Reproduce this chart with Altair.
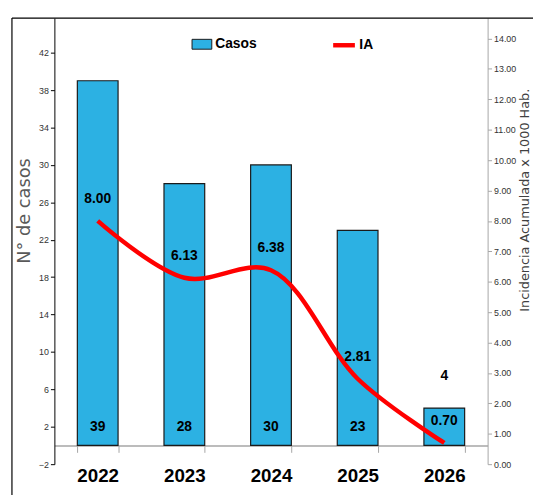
import altair as alt
import pandas as pd

years = ["2022", "2023", "2024", "2025", "2026"]
casos = [39, 28, 30, 23, 4]
ia = [8.00, 6.13, 6.38, 2.81, 0.70]
left_ticks = [-2, 2, 6, 10, 14, 18, 22, 26, 30, 34, 38, 42]
right_ticks = [0, 1, 2, 3, 4, 5, 6, 7, 8, 9, 10, 11, 12, 13, 14]

df = pd.DataFrame({"year": years, "casos": casos, "ia": ia})
df["serie_bar"] = "Casos"
df["serie_line"] = "IA"

FONT_N = "Liberation Sans Narrow, Liberation Sans, Arial, sans-serif"
FONT_W = "DejaVu Sans, Verdana, sans-serif"

base = alt.Chart(df)

x = alt.X(
    "year:N",
    scale=alt.Scale(paddingInner=0.53, paddingOuter=0.265),
    axis=alt.Axis(
        title=None, offset=-19, domainColor="#A6A6A6", domainWidth=1.5,
        tickColor="#A6A6A6", tickSize=7, tickBand="extent", labelAngle=0,
        labelFont=FONT_N, labelFontSize=19, labelFontWeight="bold",
        labelColor="black", labelPadding=15,
    ),
)

yl_scale = alt.Scale(domain=[-2, 45.7], nice=False, zero=False)
yr_scale = alt.Scale(domain=[0, 14.67], nice=False, zero=False)

left_axis = alt.Axis(
    values=left_ticks, title="N° de casos", grid=False,
    domainColor="black", tickColor="black", tickSize=4,
    labelFont=FONT_N, labelFontSize=9, labelColor="#333333",
    titleFont=FONT_W, titleFontSize=18, titleFontWeight="normal",
    titleColor="#595959", titleX=-21, titleY=195,
)

right_axis = alt.Axis(
    orient="right", values=right_ticks, format=".2f",
    title="Incidencia Acumulada x 1000 Hab.", grid=False,
    domainColor="#A6A6A6", tickColor="#A6A6A6", tickSize=4,
    labelFont=FONT_N, labelFontSize=9, labelColor="#333333",
    titleFont=FONT_W, titleFontSize=13, titleFontWeight="normal",
    titleColor="#404040", titleAngle=270, titleX=44, titleY=184,
)

bars = base.mark_bar(stroke="#1a1a1a", strokeWidth=1.2).encode(
    x=x,
    y=alt.Y("casos:Q", scale=yl_scale, axis=left_axis),
    y2=alt.datum(0),
    fill=alt.Fill(
        "serie_bar:N", scale=alt.Scale(domain=["Casos"], range=["#2CB1E3"]),
        legend=alt.Legend(
            title=None, orient="none", legendX=139, legendY=16,
            symbolType="M-1,-0.5H1V0.5H-1Z", symbolSize=400,
            symbolStrokeColor="#1a1a1a", symbolStrokeWidth=1,
            labelFont=FONT_N, labelFontSize=14, labelFontWeight="bold",
            labelColor="black", labelOffset=3, padding=0,
        ),
    ),
)

count_text = base.transform_calculate(
    label_y="datum.casos >= 10 ? 2 : datum.casos + 3.4"
).mark_text(font=FONT_N, fontSize=14, fontWeight="bold", color="black").encode(
    x=alt.X("year:N"),
    y=alt.Y("label_y:Q", scale=yl_scale, axis=left_axis),
    text=alt.Text("casos:Q"),
)

left = alt.layer(bars, count_text)

line = base.mark_line(interpolate="catmull-rom", strokeWidth=4.5).encode(
    x=alt.X("year:N"),
    y=alt.Y("ia:Q", scale=yr_scale, axis=right_axis),
    stroke=alt.Stroke(
        "serie_line:N", scale=alt.Scale(domain=["IA"], range=["#FF0000"]),
        legend=alt.Legend(
            title=None, orient="none", legendX=280, legendY=14,
            symbolType="stroke", symbolSize=484, symbolStrokeWidth=4.5,
            labelFont=FONT_N, labelFontSize=14, labelFontWeight="bold",
            labelColor="black", labelOffset=2, padding=0,
        ),
    ),
)

ia_text = base.mark_text(
    font=FONT_N, fontSize=14, fontWeight="bold", color="black", dy=-22
).encode(
    x=alt.X("year:N"),
    y=alt.Y("ia:Q", scale=yr_scale, axis=right_axis),
    text=alt.Text("ia:Q", format=".2f"),
)

right = alt.layer(line, ia_text)

frame_df = pd.DataFrame({"k": [0]})
frame_left = alt.Chart(frame_df).mark_rule(color="black", strokeWidth=1.2).encode(
    x=alt.value(-43), y=alt.value(0), y2=alt.value(488)
)
frame_top = alt.Chart(frame_df).mark_rule(color="black", strokeWidth=1.2).encode(
    x=alt.value(-43), x2=alt.value(500), y=alt.value(0)
)

chart = alt.layer(left, right, frame_left, frame_top).resolve_scale(
    y="independent", fill="independent", stroke="independent"
).properties(
    width=439, height=452,
    autosize=alt.AutoSizeParams(type="none"),
    padding={"left": 47, "top": 7, "right": 46, "bottom": 28},
).configure_view(stroke=None)

chart.save("out.html", embed_options={"renderer": "svg", "actions": False})
